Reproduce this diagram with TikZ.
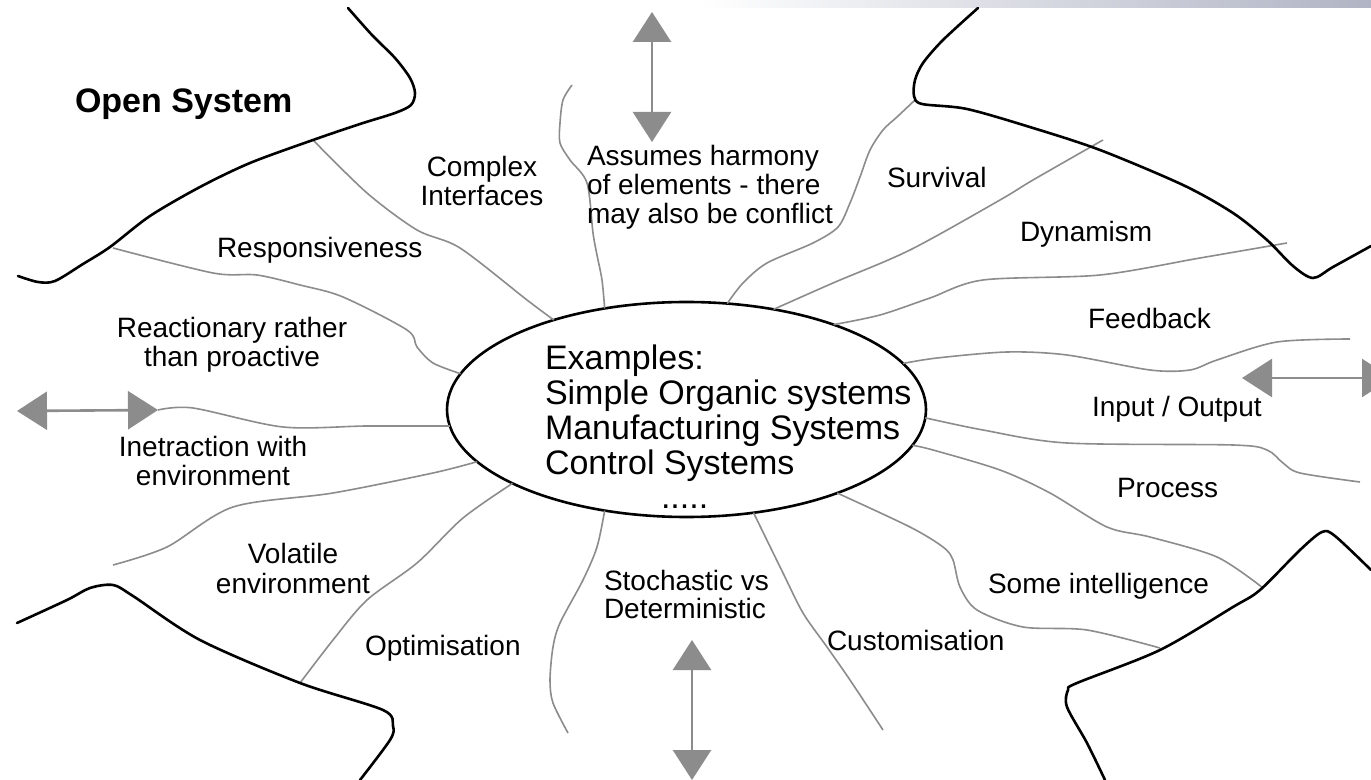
\documentclass[tikz,border=0pt]{standalone}
\usepackage{fontspec}
\setmainfont{Liberation Sans}
\usetikzlibrary{shapes.geometric,arrows.meta}
\definecolor{spokegray}{RGB}{140,140,140}
\definecolor{bandmid}{RGB}{232,242,248}
\definecolor{bandend}{RGB}{176,180,196}
\newcommand{\stackL}[1]{\begin{tabular}[t]{@{}l@{}}#1\end{tabular}}
\newcommand{\stackC}[1]{\begin{tabular}[t]{@{}c@{}}#1\end{tabular}}
\tikzset{
  outline/.style={draw=black, line width=1.3pt, line join=round, line cap=round},
  spoke/.style={draw=spokegray, line width=0.8pt, line join=round},
  dblarrow/.style={draw=spokegray, line width=1.3pt,
    {Triangle[length=15pt,width=19pt]}-{Triangle[length=15pt,width=19pt]}},
  lbl/.style={font=\fontsize{14}{14}\selectfont, inner sep=0pt, outer sep=0pt},
  centre/.style={font=\fontsize{17}{17}\selectfont, inner sep=0pt, outer sep=0pt},
  title/.style={font=\bfseries\fontsize{17}{17}\selectfont, inner sep=0pt, outer sep=0pt},
}
\begin{document}
\begin{tikzpicture}[x=0.5pt, y=-0.5pt]
\clip (0,0) rectangle (1371,780);
\fill[white] (0,0) rectangle (1371,780);
% faint band along the upper edge
\shade[left color=white, middle color=bandmid, right color=bandend] (700,0) rectangle (1371,8);

% central ellipse
\node[ellipse, draw=black, line width=1.3pt, minimum width=239.5pt, minimum height=107.5pt,
      inner sep=0pt, outer sep=0pt] (ell) at (686.5,409.5) {};

% free ends of the spokes
\coordinate (inR) at (158,410);
\coordinate (volEnd) at (113,565);
\coordinate (stoEnd) at (568,733);
\coordinate (cusEnd) at (883,730);
\coordinate (ioEnd) at (1360,482);
\coordinate (fbEnd) at (1350,339);
\coordinate (dynEnd) at (1287,243);
\coordinate (surEnd) at (1103,140);
\coordinate (harEnd) at (572,85);
\coordinate (ciEnd) at (313,140);
\coordinate (resEnd) at (113,248);
\coordinate (optEnd) at (300,683);
\coordinate (intEnd) at (1160,648);
\coordinate (proEnd) at (1263,588);
\coordinate (cornerB) at (915,100);

% spokes
\draw[spoke] plot[smooth, tension=0.5] coordinates {(ell.146) (527,300) (460,248) (417,230) (367,193) (ciEnd)};
\draw[spoke] plot[smooth, tension=0.5] coordinates {(ell.171) (433,363) (417,347) (407,330) (343,297) (300,285) (257,275) (213,273) (resEnd)};
\draw[spoke] plot[smooth, tension=0.5] coordinates {(ell.184) (367,426) (283,427) (193,408) (inR)};
\draw[spoke] plot[smooth, tension=0.5] coordinates {(ell.194) (433,473) (333,493) (233,507) (167,547) (volEnd)};
\draw[spoke] plot[smooth, tension=0.5] coordinates {(ell.203) (463,518) (417,563) (367,600) (333,640) (optEnd)};
\draw[spoke] plot[smooth, tension=0.5] coordinates {(ell.231) (597,547) (583,580) (560,623) (553,647) (550,680) (553,703) (stoEnd)};
\draw[spoke] plot[smooth, tension=0.5] coordinates {(ell.303) (783,573) (803,613) (827,647) (850,680) (cusEnd)};
\draw[spoke] plot[smooth, tension=0.5] coordinates {(ell.331) (910,527) (943,547) (953,560) (960,587) (977,610) (1023,627) (1087,630) (intEnd)};
\draw[spoke] plot[smooth, tension=0.5] coordinates {(ell.351) (933,450) (1000,470) (1050,493) (1107,527) (1150,537) (1217,557) (proEnd)};
\draw[spoke] plot[smooth, tension=0.5] coordinates {(ell.358) (983,430) (1067,443) (1233,445) (1267,450) (1283,463) (1300,473) (ioEnd)};
\draw[spoke] plot[smooth, tension=0.5] coordinates {(ell.12) (937,358) (1007,352) (1067,355) (1150,370) (1190,370) (1217,360) (1277,342) (fbEnd)};
\draw[spoke] plot[smooth, tension=0.5] coordinates {(ell.30) (880,315) (930,298) (983,280) (1100,275) (1200,258) (dynEnd)};
\draw[spoke] plot[smooth, tension=0.5] coordinates {(ell.49) (833,283) (910,250) (1000,200) (1033,180) (surEnd)};
\draw[spoke] plot[smooth, tension=0.5] coordinates {(ell.69) (743,283) (767,263) (813,243) (838,227) (850,203) (860,177) (870,150) (883,130) (897,117) (cornerB)};
\draw[spoke] plot[smooth, tension=0.5] coordinates {(ell.129) (602,280) (597,255) (593,233) (587,183) (570,160) (560,143) (560,123) (563,100) (harEnd)};

% outer boundary curves
\draw[outline] plot[smooth, tension=0.5] coordinates {(348,8) (372,35) (395,58) (410,78) (415,93) (411,105) (395,113) (360,124) (313,140) (250,163) (200,187) (150,216) (110,247) (83,264) (55,281) (38,282) (18,276)};
\draw[outline] plot[smooth, tension=0.5] coordinates {(978,8) (943,40) (923,63) (915,80) (914,96) (922,104) (967,109) (1033,128) (1100,150) (1183,185) (1233,213) (1267,240) (1293,266) (1313,278) (1333,267) (1371,246)};
\draw[outline] plot[smooth, tension=0.5] coordinates {(17,623) (67,600) (90,588) (113,585) (133,596) (200,640) (300,683) (383,710) (393,726) (390,740) (360,780)};
\draw[outline] plot[smooth, tension=0.5] coordinates {(1105,780) (1087,743) (1067,707) (1068,690) (1077,683) (1160,650) (1233,607) (1260,590) (1300,550) (1322,532) (1335,536) (1371,570)};

% double-headed arrows
\coordinate (topA) at (652,12);
\coordinate (topB) at (652,142);
\coordinate (botA) at (692,640);
\coordinate (botB) at (692,780);
\coordinate (inL) at (17,411);
\coordinate (ioL) at (1242,378);
\coordinate (ioR) at (1392,378);
\draw[dblarrow] (topA) -- (topB);
\draw[dblarrow] (botA) -- (botB);
\draw[dblarrow] (inL) -- (inR);
\draw[dblarrow] (ioL) -- (ioR);

% labels
\node[title, anchor=base west] (ttl) at (75,113) {Open System};
\node[lbl, anchor=base] (cplx) at (482,177) {\stackC{Complex\\Interfaces}};
\node[lbl, anchor=base west] (harm) at (587,166) {\stackL{Assumes harmony\\of elements - there\\may also be conflict}};
\node[lbl, anchor=base west] (surv) at (887,188) {Survival};
\node[lbl, anchor=base west] (dyn) at (1020,242) {Dynamism};
\node[lbl, anchor=base west] (fb) at (1088,329) {Feedback};
\node[lbl, anchor=base west] (io) at (1092,417) {Input / Output};
\node[lbl, anchor=base west] (proc) at (1117,498) {Process};
\node[lbl, anchor=base west] (intel) at (988,593) {Some intelligence};
\node[lbl, anchor=base west] (cust) at (827,650) {Customisation};
\node[lbl, anchor=base west] (stoch) at (604,590) {\stackL{Stochastic vs\\Deterministic}};
\node[lbl, anchor=base west] (opt) at (365,655) {Optimisation};
\node[lbl, anchor=base] (vol) at (293,563) {\stackC{Volatile\\[1pt]environment}};
\node[lbl, anchor=base] (inter) at (213,457) {\stackC{Inetraction with\\environment}};
\node[lbl, anchor=base] (react) at (232,338) {\stackC{Reactionary rather\\than proactive}};
\node[lbl, anchor=base west] (resp) at (217,258) {Responsiveness};
\node[centre, anchor=base west] (ex) at (545,370) {\stackL{Examples:\\Simple Organic systems\\Manufacturing Systems\\Control Systems\\\hspace*{58pt}.....}};
\end{tikzpicture}
\end{document}
